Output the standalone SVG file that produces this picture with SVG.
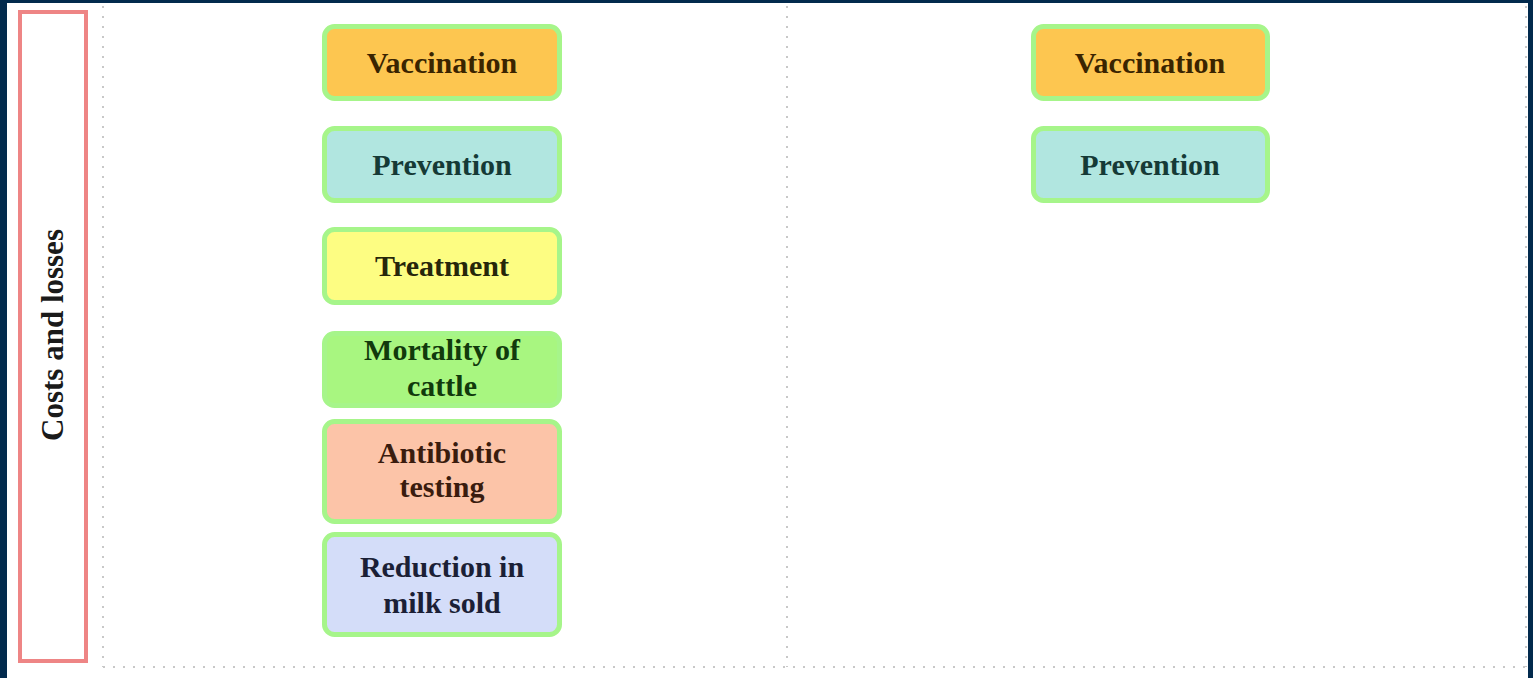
<svg xmlns="http://www.w3.org/2000/svg" width="1533" height="678" viewBox="0 0 1533 678">
  <style>
    .box { stroke: #a6f58a; stroke-width: 5; }
    .lbl { font-family: "Liberation Serif", "Times New Roman", serif; font-weight: bold; font-size: 30px; text-anchor: middle; }
    .hdr { font-size: 31px; }
    .dot { stroke: #c8c8c8; stroke-width: 2; stroke-dasharray: 2 8; fill: none; }
  </style>
  <rect x="0" y="0" width="1533" height="678" fill="#022a4d"/>
  <rect x="7" y="3" width="1521" height="675" fill="#ffffff"/>

  <g id="lanes">
    <line class="dot" x1="103" y1="6" x2="103" y2="667"/>
    <line class="dot" x1="787" y1="6" x2="787" y2="667"/>
    <line class="dot" x1="1526" y1="6" x2="1526" y2="667"/>
    <line class="dot" x1="103" y1="667" x2="1526" y2="667"/>
  </g>

  <g id="lane-header">
    <rect x="20" y="12" width="66" height="649" fill="none" stroke="#ee8585" stroke-width="4"/>
    <text class="lbl hdr" fill="#1a1a1a" transform="translate(63,335) rotate(-90)" x="0" y="0">Costs and losses</text>
  </g>

  <g id="connectors"></g>

  <g id="vaccination-1">
    <rect class="box" x="324.5" y="26.5" width="235" height="72" rx="10" fill="#fdc650"/>
    <text class="lbl" fill="#3a2400" x="442" y="72.5">Vaccination</text>
  </g>
  <g id="prevention-1">
    <rect class="box" x="324.5" y="128.5" width="235" height="72" rx="10" fill="#b1e6e0"/>
    <text class="lbl" fill="#153a36" x="442" y="175">Prevention</text>
  </g>
  <g id="treatment">
    <rect class="box" x="324.5" y="229.5" width="235" height="73" rx="10" fill="#fdfd82"/>
    <text class="lbl" fill="#26260a" x="442" y="276">Treatment</text>
  </g>
  <g id="mortality">
    <rect class="box" x="324.5" y="333.5" width="235" height="72" rx="10" fill="#a8f680"/>
    <text class="lbl" fill="#113a0c" x="442" y="360">Mortality of</text>
    <text class="lbl" fill="#113a0c" x="442" y="396">cattle</text>
  </g>
  <g id="antibiotic">
    <rect class="box" x="324.5" y="421.5" width="235" height="100" rx="10" fill="#fcc4a8"/>
    <text class="lbl" fill="#3a1c0e" x="442" y="463">Antibiotic</text>
    <text class="lbl" fill="#3a1c0e" x="442" y="497">testing</text>
  </g>
  <g id="reduction">
    <rect class="box" x="324.5" y="534.5" width="235" height="100" rx="10" fill="#d4ddf9"/>
    <text class="lbl" fill="#1b1f36" x="442" y="577">Reduction in</text>
    <text class="lbl" fill="#1b1f36" x="442" y="613">milk sold</text>
  </g>

  <g id="vaccination-2">
    <rect class="box" x="1033.5" y="26.5" width="234" height="72" rx="10" fill="#fdc650"/>
    <text class="lbl" fill="#3a2400" x="1150" y="72.5">Vaccination</text>
  </g>
  <g id="prevention-2">
    <rect class="box" x="1033.5" y="128.5" width="234" height="72" rx="10" fill="#b1e6e0"/>
    <text class="lbl" fill="#153a36" x="1150" y="175">Prevention</text>
  </g>
</svg>
